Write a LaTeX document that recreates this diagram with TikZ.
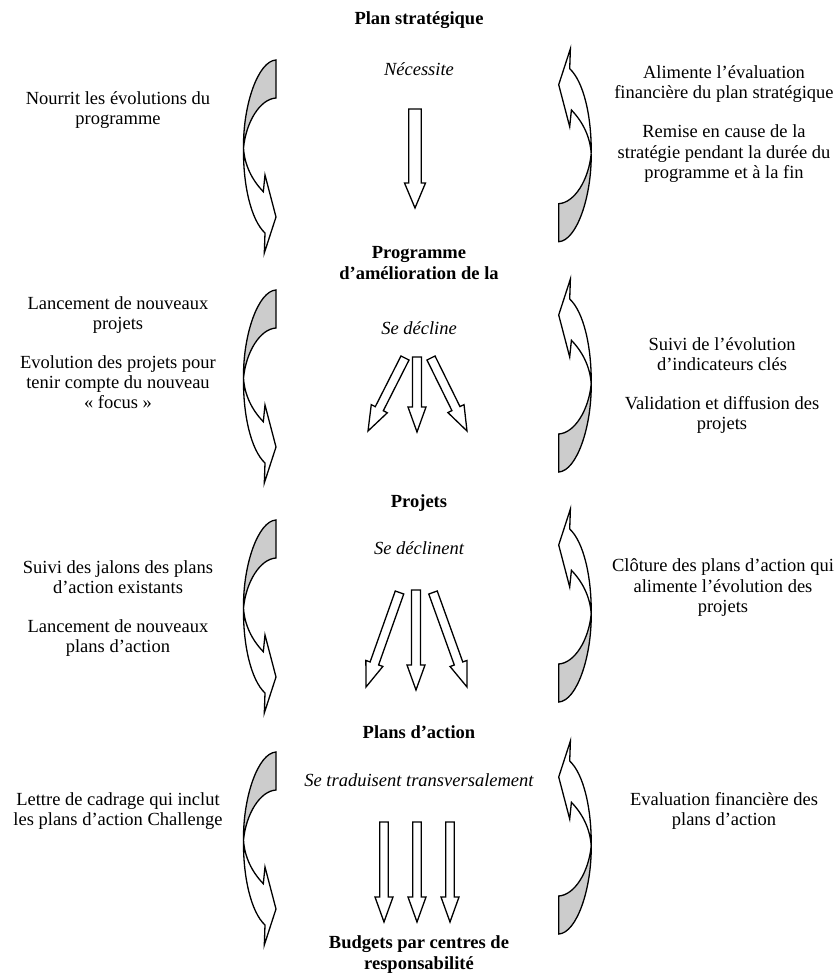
\documentclass[tikz,border=0pt]{standalone}
\usepackage{fontspec}
\setmainfont{Liberation Serif}
\usetikzlibrary{calc}
\newcommand\txtbox[1]{\parbox[t]{260pt}{\centering\fontsize{18.5}{20.3}\selectfont #1}}
\newcommand\hdbox[1]{\parbox[t]{260pt}{\centering\fontsize{18.5}{21}\selectfont\bfseries #1}}
\newcommand\barrow[5]{%
  \coordinate (bh) at ($(#2)!#5!(#1)$);
  \draw[blockarr] ($(#1)!#3!90:(#2)$) -- ($(bh)!#3!90:(#2)$) -- ($(bh)!#4!90:(#2)$) -- (#2)
     -- ($(bh)!#4!-90:(#2)$) -- ($(bh)!#3!-90:(#2)$) -- ($(#1)!#3!-90:(#2)$) -- cycle;}
\tikzset{
  lbl/.style={anchor=base, inner sep=0pt},
  blockarr/.style={draw=black, line width=1.3pt, fill=white, line join=miter},
  greyface/.style={draw=black, line width=1.3pt, fill=black!20, line join=miter},
  whiteface/.style={draw=black, line width=1.3pt, fill=white, line join=miter},
  curvarrow/.pic={
    \path[greyface] (33,0) .. controls (15,1) and (0,45) .. (0.5,88)
        .. controls (3,62) and (17,39) .. (33,38) -- cycle;
    \path[whiteface] (0.5,88) .. controls (0,125) and (8,160) .. (22,173)
        -- (21.3,193) -- (33,157) -- (22,115) -- (20.3,131.7)
        .. controls (9,120) and (1.5,105) .. (0.5,88) -- cycle;
  }
}
\begin{document}
\begin{tikzpicture}[x=1pt,y=-1pt]
\useasboundingbox[fill=white] (0,0) rectangle (839,980);

% centre column
\node[lbl] (h1) at (419,24) {\hdbox{Plan stratégique}};
\node[lbl] (v1) at (419,75) {\txtbox{\itshape Nécessite}};
\node[lbl] (h2) at (419,258.3) {\hdbox{Programme\\d’amélioration de la}};
\node[lbl] (v2) at (419,334.3) {\txtbox{\itshape Se décline}};
\node[lbl] (h3) at (419,507) {\hdbox{Projets}};
\node[lbl] (v3) at (419,554) {\txtbox{\itshape Se déclinent}};
\node[lbl] (h4) at (419,738) {\hdbox{Plans d’action}};
\node[lbl] (v4) at (419,786.7) {\txtbox{\itshape Se traduisent transversalement}};
\node[lbl] (h5) at (419,948.3) {\hdbox{Budgets par centres de\\responsabilité}};

% left column
\node[lbl] (l1) at (118,104.3) {\txtbox{Nourrit les évolutions du\\programme}};
\node[lbl] (l2a) at (118,309.3) {\txtbox{Lancement de nouveaux\\projets}};
\node[lbl] (l2b) at (118,368.3) {\txtbox{Evolution des projets pour\\tenir compte du nouveau\\« focus »}};
\node[lbl] (l3a) at (118,573.3) {\txtbox{Suivi des jalons des plans\\d’action existants}};
\node[lbl] (l3b) at (118,632.3) {\txtbox{Lancement de nouveaux\\plans d’action}};
\node[lbl] (l4) at (118,805) {\txtbox{Lettre de cadrage qui inclut\\les plans d’action Challenge}};

% right column
\node[lbl] (r1a) at (724,78.3) {\txtbox{Alimente l’évaluation\\financière du plan stratégique}};
\node[lbl] (r1b) at (724,137.7) {\txtbox{Remise en cause de la\\stratégie pendant la durée du\\programme et à la fin}};
\node[lbl] (r2a) at (722,350) {\txtbox{Suivi de l’évolution\\d’indicateurs clés}};
\node[lbl] (r2b) at (722,409) {\txtbox{Validation et diffusion des\\projets}};
\node[lbl] (r3) at (723,571.7) {\txtbox{Clôture des plans d’action qui\\alimente l’évolution des\\projets}};
\node[lbl] (r4) at (724,805) {\txtbox{Evaluation financière des\\plans d’action}};

% straight block arrows
\coordinate (a1s) at (415,109); \coordinate (a1e) at (415,208);
\barrow{a1s}{a1e}{6.3pt}{10.5pt}{25pt}

\coordinate (b1s) at (405,358); \coordinate (b1e) at (368,431);
\coordinate (b2s) at (417,357); \coordinate (b2e) at (417,432);
\coordinate (b3s) at (431,358); \coordinate (b3e) at (467,431);
\barrow{b1s}{b1e}{4.5pt}{9pt}{25pt}
\barrow{b2s}{b2e}{4.5pt}{9pt}{25pt}
\barrow{b3s}{b3e}{4.5pt}{9pt}{25pt}

\coordinate (c1s) at (399.5,592.5); \coordinate (c1e) at (366,687);
\coordinate (c2s) at (416,590); \coordinate (c2e) at (416,690);
\coordinate (c3s) at (433,592.5); \coordinate (c3e) at (467,687);
\barrow{c1s}{c1e}{4.5pt}{9pt}{25pt}
\barrow{c2s}{c2e}{4.5pt}{9pt}{25pt}
\barrow{c3s}{c3e}{4.5pt}{9pt}{25pt}

\coordinate (d1s) at (384,822); \coordinate (d1e) at (384,922);
\coordinate (d2s) at (417,822); \coordinate (d2e) at (417,922);
\coordinate (d3s) at (450,822); \coordinate (d3e) at (450,922);
\barrow{d1s}{d1e}{4.2pt}{9pt}{25pt}
\barrow{d2s}{d2e}{4.2pt}{9pt}{25pt}
\barrow{d3s}{d3e}{4.2pt}{9pt}{25pt}

% curved arrows, left
\pic at (243,60) {curvarrow};
\pic at (243,290) {curvarrow};
\pic at (243,520) {curvarrow};
\pic at (243,752) {curvarrow};
% curved arrows, right
\pic[rotate=180] at (591.7,241.7) {curvarrow};
\pic[rotate=180] at (591.7,472) {curvarrow};
\pic[rotate=180] at (591.7,702) {curvarrow};
\pic[rotate=180] at (591.7,934) {curvarrow};
\end{tikzpicture}
\end{document}
